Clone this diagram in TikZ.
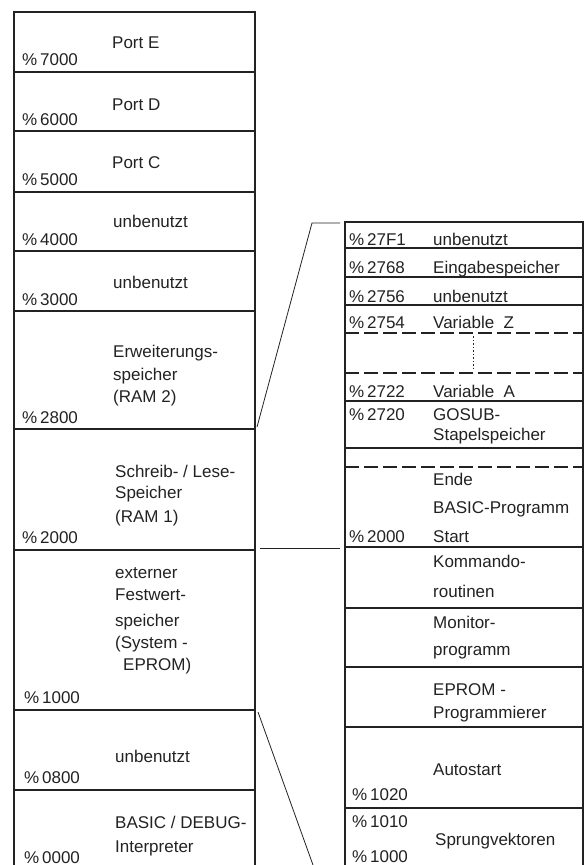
\documentclass[tikz,border=0pt]{standalone}
\usepackage{fontspec}
\setmainfont{Liberation Sans}
\definecolor{ink}{HTML}{222222}
\begin{document}
\begin{tikzpicture}[x=1pt,y=-1pt,
  frame/.style={draw=ink, line width=1.3pt},
  sep/.style={draw=ink, line width=1.1pt},
  dsep/.style={draw=ink, line width=1.1pt, dash pattern=on 14pt off 5pt},
  dots/.style={draw=ink, line width=0.8pt, dash pattern=on 1.5pt off 2pt},
  link/.style={draw=ink, line width=0.8pt},
  lbl/.style={anchor=base west, inner sep=0pt, text=ink, font=\fontsize{17}{20}\selectfont},
]
\useasboundingbox (0,0) rectangle (587,865);
% ---------- left column ----------
\draw[frame] (14,865) -- (14,12) -- (255,12) -- (255,865);
\foreach \yy in {72,131,192,251,311,429,550,710,790}
  \draw[sep] (14,\yy) -- (255,\yy);
% ---------- right column ----------
\draw[frame] (345,865) -- (345,222) -- (583,222) -- (583,865);
\foreach \yy in {248,277,305,401,448,547,608,667,727,808}
  \draw[sep] (345,\yy) -- (583,\yy);
\foreach \yy in {333,373,467}
  \draw[dsep] (345,\yy) -- (583,\yy);
\coordinate (v1) at (473,336);
\coordinate (v2) at (473,370);
\draw[dots] (v1) -- (v2);
% ---------- connectors ----------
\coordinate (c1) at (257,427);
\coordinate (c2) at (312,223);
\coordinate (c3) at (340,223);
\coordinate (m1) at (260,548);
\coordinate (m2) at (340,548);
\coordinate (d1) at (258,712);
\coordinate (d2) at (313,865);
\draw[link] (c1) -- (c2) -- (c3);
\draw[link] (m1) -- (m2);
\draw[link] (d1) -- (d2);
% ---------- left texts ----------
\node[lbl] (tE) at (112,48) {Port E};
\node[lbl] (a7000) at (22,65) {\%\,7000};
\node[lbl] (tD) at (112,110) {Port D};
\node[lbl] (a6000) at (22,125) {\%\,6000};
\node[lbl] (tC) at (112,168) {Port C};
\node[lbl] (a5000) at (22,185) {\%\,5000};
\node[lbl] (tU4) at (113,227) {unbenutzt};
\node[lbl] (a4000) at (22,245) {\%\,4000};
\node[lbl] (tU3) at (113,288) {unbenutzt};
\node[lbl] (a3000) at (22,305) {\%\,3000};
\node[lbl] (tEa) at (113,357) {Erweiterungs-};
\node[lbl] (tEb) at (113,380) {speicher};
\node[lbl] (tEc) at (113,402) {(RAM 2)};
\node[lbl] (a2800) at (22,423) {\%\,2800};
\node[lbl] (tSa) at (115,477) {Schreib- / Lese-};
\node[lbl] (tSb) at (115,498) {Speicher};
\node[lbl] (tSc) at (115,522) {(RAM 1)};
\node[lbl] (a2000) at (22,543) {\%\,2000};
\node[lbl] (tXa) at (115,578) {externer};
\node[lbl] (tXb) at (115,600) {Festwert-};
\node[lbl] (tXc) at (115,626) {speicher};
\node[lbl] (tXd) at (115,648) {(System -};
\node[lbl] (tXe) at (123,670) {EPROM)};
\node[lbl] (a1000) at (24,703) {\%\,1000};
\node[lbl] (tU8) at (115,762) {unbenutzt};
\node[lbl] (a0800) at (24,783) {\%\,0800};
\node[lbl] (tBa) at (115,828) {BASIC / DEBUG-};
\node[lbl] (tBb) at (115,852) {Interpreter};
\node[lbl] (a0000) at (24,863) {\%\,0000};
% ---------- right texts ----------
\node[lbl] (r27F1) at (349,245) {\%\,27F1};
\node[lbl] (s27F1) at (433,245) {unbenutzt};
\node[lbl] (r2768) at (349,273) {\%\,2768};
\node[lbl] (s2768) at (433,273) {Eingabespeicher};
\node[lbl] (r2756) at (349,302) {\%\,2756};
\node[lbl] (s2756) at (433,302) {unbenutzt};
\node[lbl] (r2754) at (349,328) {\%\,2754};
\node[lbl] (s2754) at (433,328) {Variable\ \ Z};
\node[lbl] (r2722) at (349,397) {\%\,2722};
\node[lbl] (s2722) at (433,397) {Variable\ \ A};
\node[lbl] (r2720) at (349,420) {\%\,2720};
\node[lbl] (s2720a) at (433,420) {GOSUB-};
\node[lbl] (s2720b) at (433,440) {Stapelspeicher};
\node[lbl] (sEnde) at (433,485) {Ende};
\node[lbl] (sBas) at (433,513) {BASIC-Programm};
\node[lbl] (r2000) at (349,542) {\%\,2000};
\node[lbl] (sStart) at (433,542) {Start};
\node[lbl] (sKa) at (433,567) {Kommando-};
\node[lbl] (sKb) at (433,597) {routinen};
\node[lbl] (sMa) at (433,628) {Monitor-};
\node[lbl] (sMb) at (433,655) {programm};
\node[lbl] (sPa) at (433,695) {EPROM -};
\node[lbl] (sPb) at (433,718) {Programmierer};
\node[lbl] (sAuto) at (433,775) {Autostart};
\node[lbl] (r1020) at (352,800) {\%\,1020};
\node[lbl] (r1010) at (352,827) {\%\,1010};
\node[lbl] (sSpr) at (435,845) {Sprungvektoren};
\node[lbl] (r1000) at (352,862) {\%\,1000};
\end{tikzpicture}
\end{document}
